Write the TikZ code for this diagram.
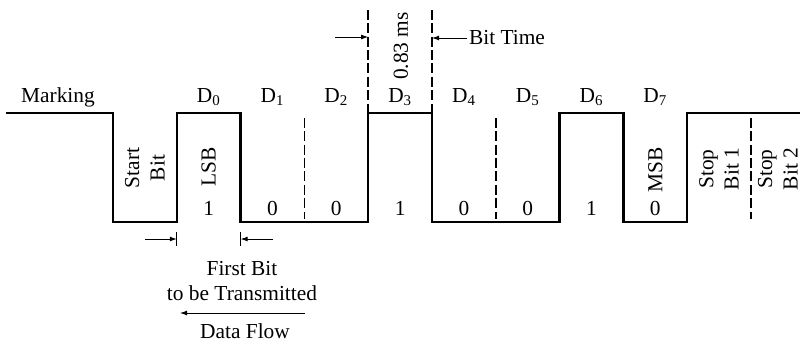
\documentclass[tikz,border=0pt]{standalone}
\usepackage{fontspec}
\setmainfont{Liberation Serif}
\usetikzlibrary{arrows.meta,calc}
\tikzset{
  wave/.style={line width=1.7pt, line join=miter},
  bitdash/.style={line width=1.1pt, dash pattern=on 7pt off 2.5pt},
  thinarrow/.style={-{Latex[length=5pt,width=3.5pt]}, line width=0.6pt},
  tick/.style={line width=0.8pt},
  sidelabel/.style={rotate=90, align=center, inner sep=0.5pt},
  txt/.style={inner sep=1pt},
}
\def\bw{63.8}

\begin{document}
\begin{tikzpicture}[x=0.025cm, y=-0.025cm, font=\fontsize{15.2}{18}\selectfont]
  \useasboundingbox (0,0) rectangle (802,342);

  % Bit edges
  \foreach \i in {0,...,10} {
    \coordinate (hi\i) at ({113+\i*\bw},113);
    \coordinate (lo\i) at ({113+\i*\bw},222);
    \coordinate (c\i) at ({113+(\i+0.5)*\bw},0);
  }
  \coordinate (mark) at (6,113);
  \coordinate (idle) at (800,113);

  % Waveform
  \draw[wave] (mark) -- (hi0) -- (lo0) -- (lo1) -- (hi1) -- (hi2) -- (lo2)
    -- (lo4) -- (hi4) -- (hi5) -- (lo5) -- (lo7) -- (hi7) -- (hi8) -- (lo8)
    -- (lo9) -- (hi9) -- (idle);

  % Bit boundaries
  \foreach \i in {3,6,10}
    \draw[bitdash] ($(hi\i)+(0,5)$) -- ($(lo\i)+(0,-3)$);
  \foreach \i in {4,5}
    \draw[bitdash] ($(hi\i)+(0,-103)$) -- (hi\i);

  % Labels
  \node[txt] (marking) at (58,97) {Marking};
  \foreach \i in {0,...,7} {
    \node[txt] (d\i) at ($(c\i)+(\bw,97)$) {D\textsubscript{\i}};
  }
  \foreach \v [count=\i] in {1,0,0,1,0,0,1,0}
    \node[txt] (v\i) at ($(c\i)+(0,208)$) {\v};
  \node[sidelabel] (start) at ($(c0)+(0,168)$) {Start\\Bit};
  \node[sidelabel] (lsb) at ($(c1)+(0,167)$) {LSB};
  \node[sidelabel] (msb) at ($(c8)+(0,170)$) {MSB};
  \node[sidelabel] (stop1) at ($(c9)+(0,169)$) {Stop\\Bit 1};
  \node[sidelabel] (stop2) at ($(c10)+(-5,169)$) {Stop\\Bit 2};

  % Bit time
  \node[sidelabel] (period) at (401,46) {0.83 ms};
  \node[txt] (bittime) at (507,38) {Bit Time};
  \coordinate (pl) at (335,37);
  \draw[thinarrow] (pl) -- (pl -| hi4);
  \draw[thinarrow] (bittime.west) -- (bittime.west -| hi5);

  % First bit
  \coordinate (fl) at (145,239);
  \coordinate (fr) at (273,239);
  \draw[tick] ($(fl -| hi1)+(0,-7)$) -- ($(fl -| hi1)+(0,7)$);
  \draw[tick] ($(fr -| hi2)+(0,-7)$) -- ($(fr -| hi2)+(0,7)$);
  \draw[thinarrow] (fl) -- (fl -| hi1);
  \draw[thinarrow] (fr) -- (fr -| hi2);
  \node[txt, align=center] (first) at (242,281) {First Bit\\to be Transmitted};

  % Data flow
  \node[txt] (flow) at (245,331) {Data Flow};
  \coordinate (flowr) at (305,313);
  \coordinate (flowl) at (180,313);
  \draw[thinarrow] (flowr) -- (flowl);
\end{tikzpicture}
\end{document}
